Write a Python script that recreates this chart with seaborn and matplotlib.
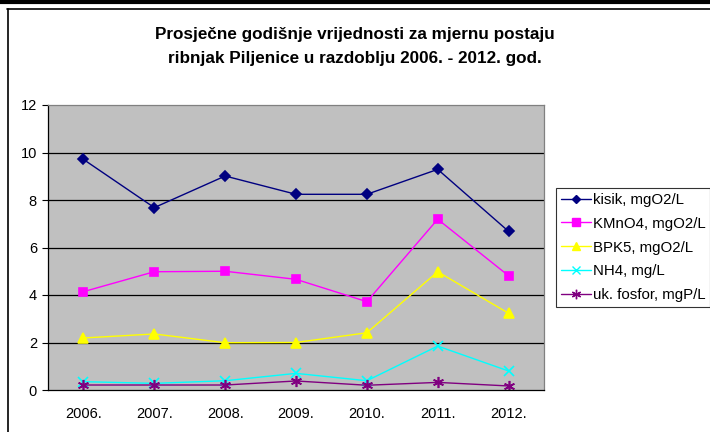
import numpy as np
import pandas as pd
import matplotlib.pyplot as plt
from matplotlib.lines import Line2D
import seaborn as sns

# Data
years = ["2006.", "2007.", "2008.", "2009.", "2010.", "2011.", "2012."]
kisik = [9.71, 7.68, 9.01, 8.24, 8.24, 9.29, 6.68]
kmno4 = [4.14, 4.98, 5.00, 4.66, 3.72, 7.19, 4.81]
bpk5 = [2.19, 2.36, 1.99, 2.00, 2.41, 4.98, 3.23]
nh4 = [0.35, 0.28, 0.39, 0.70, 0.39, 1.85, 0.80]
fosfor = [0.21, 0.21, 0.21, 0.38, 0.20, 0.32, 0.17]

series_names = ["kisik, mgO2/L", "KMnO4, mgO2/L", "BPK5, mgO2/L",
                "NH4, mg/L", "uk. fosfor, mgP/L"]
series_values = [kisik, kmno4, bpk5, nh4, fosfor]
colors = ["#000080", "#FF00FF", "#FFFF00", "#00FFFF", "#800080"]
markers = ["D", "s", "^", "x", (6, 2, 0)]
msizes = [5, 6, 7, 7, 8]

sns.set_style("white")
plt.rcParams["font.family"] = ["Liberation Sans", "DejaVu Sans"]
plt.rcParams["text.color"] = "black"
plt.rcParams["xtick.color"] = "black"
plt.rcParams["ytick.color"] = "black"

rows = []
for name, vals in zip(series_names, series_values):
    for i, v in enumerate(vals):
        rows.append({"pos": i, "year": years[i], "series": name, "value": v})
df = pd.DataFrame(rows)

fig = plt.figure(figsize=(7.1, 4.32), dpi=100)
ax = fig.add_axes([48 / 710, 42 / 432, 496 / 710, 285 / 432])
ax.set_facecolor("#C0C0C0")

for name, c, m, ms in zip(series_names, colors, markers, msizes):
    sns.lineplot(data=df[df["series"] == name], x="pos", y="value",
                 color=c, marker=m, markersize=ms, markeredgecolor=c,
                 markerfacecolor=c, markeredgewidth=1.2, linewidth=1,
                 ax=ax, legend=False)

ax.set_xlim(-0.5, 6.5)
ax.set_ylim(0, 12)
ax.set_xticks(np.arange(len(years)))
ax.set_xticklabels(years, fontsize=10.5)
ax.set_xticks(np.arange(-0.5, 7, 1), minor=True)
ax.tick_params(axis="x", which="major", length=0, pad=12)
ax.tick_params(axis="x", which="minor", length=4, width=0.8, direction="out", color="black")
ax.set_yticks(range(0, 13, 2))
ax.tick_params(axis="y", labelsize=10.5, length=4, width=0.8, direction="out",
               left=True, color="black", pad=4)
ax.set_xlabel("")
ax.set_ylabel("")
ax.grid(False)
for y in range(2, 12, 2):
    ax.axhline(y, color="black", linewidth=0.9, zorder=0.5)

for side in ["top", "right"]:
    ax.spines[side].set_color("#808080")
for side in ["left", "bottom"]:
    ax.spines[side].set_color("black")
for s in ax.spines.values():
    s.set_linewidth(0.9)

fig.text(355 / 710, 1 - 46.5 / 432,
         "Prosječne godišnje vrijednosti za mjernu postaju\n"
         "ribnjak Piljenice u razdoblju 2006. - 2012. god.",
         ha="center", va="center", fontsize=12.3, fontweight="bold",
         linespacing=1.7)

handles = [Line2D([0], [0], color=c, marker=m, markersize=ms * 0.85,
                  markerfacecolor=c, markeredgecolor=c, linewidth=1)
           for c, m, ms in zip(colors, markers, msizes)]
leg = fig.legend(handles, series_names, loc="upper left",
                 bbox_to_anchor=(556 / 710, 1 - 188 / 432),
                 frameon=True, fancybox=False, edgecolor="black",
                 fontsize=10.8, handlelength=2.0, labelspacing=0.66,
                 borderpad=0.32, handletextpad=0.12, borderaxespad=0)
leg.get_frame().set_linewidth(0.8)

# outer frame decoration
fig.add_artist(Line2D([0, 1], [1 - 2 / 432, 1 - 2 / 432], color="black", linewidth=3,
                      transform=fig.transFigure))
fig.add_artist(Line2D([7 / 710, 1], [1 - 8.5 / 432, 1 - 8.5 / 432], color="black",
                      linewidth=1.2, transform=fig.transFigure))
fig.add_artist(Line2D([7.5 / 710, 7.5 / 710], [0, 1 - 8.5 / 432], color="black",
                      linewidth=1.2, transform=fig.transFigure))

plt.savefig("out.png", dpi=100)
